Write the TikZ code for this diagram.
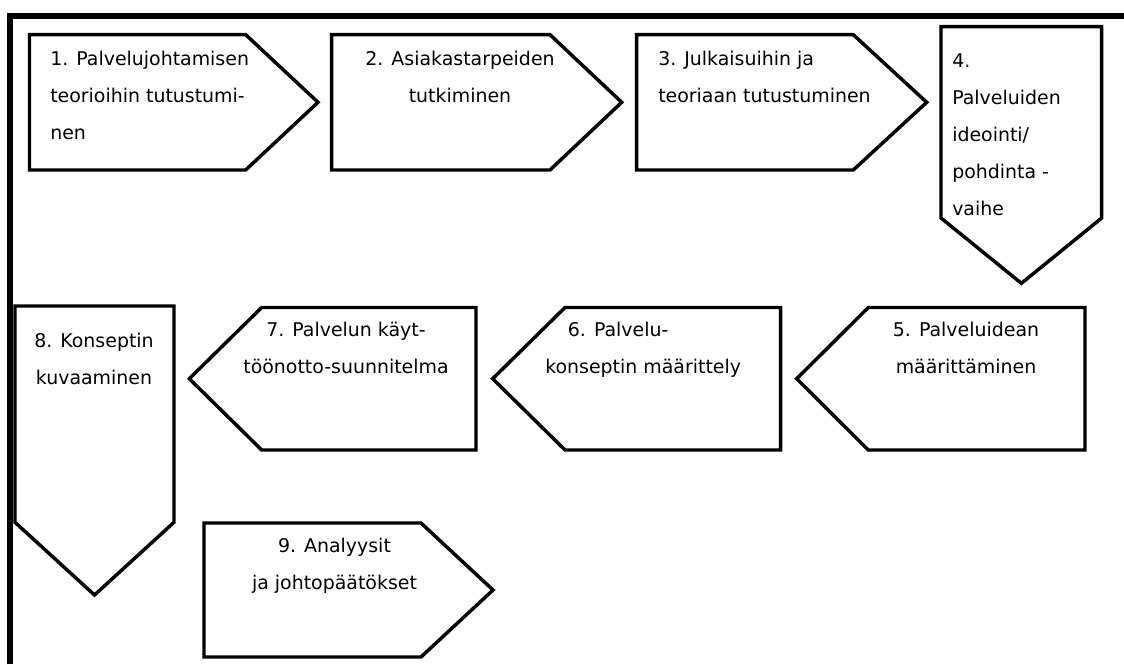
\documentclass[tikz,border=0pt]{standalone}
\usepackage{fontspec}
\setmainfont{DejaVu Sans}

\begin{document}
\begin{tikzpicture}[
    x=0.75pt, y=-0.75pt,
    stage/.style={draw=black, line width=2.6pt, fill=white},
    stagetext/.style={inner sep=0pt, font=\fontsize{14.2pt}{27.75pt}\selectfont},
  ]
  \useasboundingbox (0,0) rectangle (1124,664);
  \draw[line width=4.5pt] (9.7,664) -- (9.7,15.5) -- (1124,15.5);

  % first row, pointing right
  \draw[stage] (29.5,34.7) -- (245.7,34.7) -- (318,102.3) -- (245.7,170) -- (29.5,170) -- cycle;
  \draw[stage] (331.7,34.7) -- (550,34.7) -- (621.7,102.3) -- (550,170) -- (331.7,170) -- cycle;
  \draw[stage] (636.7,34.7) -- (853.3,34.7) -- (926.7,102.3) -- (853.3,170) -- (636.7,170) -- cycle;
  \draw[stage] (941,26.7) -- (1101.7,26.7) -- (1101.7,218) -- (1021.4,283.3) -- (941,218) -- cycle;

  % second row, pointing left
  \draw[stage] (796.7,378.7) -- (868.3,307.5) -- (1085,307.5) -- (1085,450) -- (868.3,450) -- cycle;
  \draw[stage] (492.7,378.7) -- (565,307.5) -- (780.7,307.5) -- (780.7,450) -- (565,450) -- cycle;
  \draw[stage] (189.3,378.7) -- (261.7,307.5) -- (476,307.5) -- (476,450) -- (261.7,450) -- cycle;
  \draw[stage] (15,306) -- (174,306) -- (174,522.3) -- (94.5,595) -- (15,522.3) -- cycle;

  % last one
  \draw[stage] (204,523) -- (421,523) -- (493,590) -- (421,657) -- (204,657) -- cycle;

  \node[stagetext, anchor=north west, align=left] (t1) at (50,50.6) {1. Palvelujohtamisen\\teorioihin tutustumi-\\nen};
  \node[stagetext, anchor=north, align=center] (t2) at (460,50.6) {2. Asiakastarpeiden\\tutkiminen};
  \node[stagetext, anchor=north west, align=left] (t3) at (658,50.6) {3. Julkaisuihin ja\\teoriaan tutustuminen};
  \node[stagetext, anchor=north west, align=left] (t4) at (952,53.2) {4.\\Palveluiden\\ideointi/\\pohdinta -\\vaihe};
  \node[stagetext, anchor=north, align=center] (t5) at (966,321.8) {5. Palveluidean\\määrittäminen};
  \node[stagetext, anchor=north west, align=left] (t6) at (545,321.6) {\hspace*{17pt}6. Palvelu-\\konseptin määrittely};
  \node[stagetext, anchor=north, align=center] (t7) at (346,321.6) {7. Palvelun käyt-\\töönotto-suunnitelma};
  \node[stagetext, anchor=north, align=center] (t8) at (94,332.9) {8. Konseptin\\kuvaaminen};
  \node[stagetext, anchor=north, align=center] (t9) at (334.5,538.3) {9. Analyysit\\ja johtopäätökset};
\end{tikzpicture}
\end{document}
